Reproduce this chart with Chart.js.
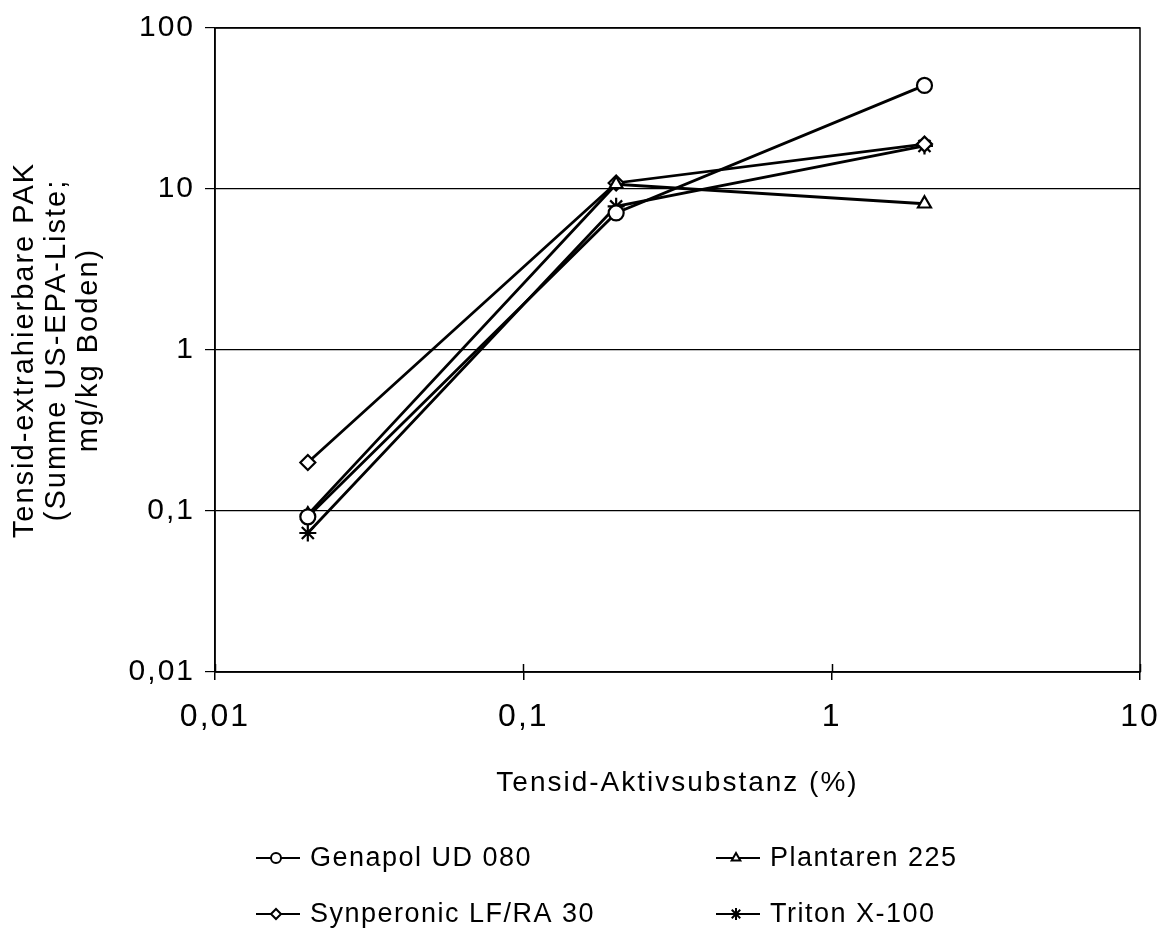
<!DOCTYPE html>
<html>
<head>
<meta charset="utf-8">
<script src="https://cdn.jsdelivr.net/npm/chart.js@4/dist/chart.umd.min.js"></script>
<style>
  html, body { margin: 0; padding: 0; background: #fff; }
  #wrap { width: 1166px; height: 931px; }
</style>
</head>
<body>
<div id="wrap"><canvas id="pakChart"></canvas></div>
<script>
"use strict";

// Tensid-Aktivsubstanz (%)
const concentrations = [0.02, 0.2, 2];
// PAK (mg/kg Boden)
const genapol = [0.092, 7.1, 44];
const plantaren = [0.095, 10.7, 8.1];
const synperonic = [0.2, 10.9, 19.0];
const triton = [0.073, 7.8, 18.5];

const seriesNames = ['Genapol UD 080', 'Plantaren 225', 'Synperonic LF/RA 30', 'Triton X-100'];
const seriesStyles = ['circle', 'triangle', 'rectRot', 'star'];
const xTicks = [0.01, 0.1, 1, 10];
const yTicks = [0.01, 0.1, 1, 10, 100];

const FONT = "'Liberation Sans', Arial, sans-serif";
const fmt = (v) => String(v).replace('.', ',');

const toPoints = (arr) => concentrations.map((x, i) => ({ x: x, y: arr[i] }));

const makeDataset = (idx, values) => ({
  label: seriesNames[idx],
  data: toPoints(values),
  borderColor: '#000',
  borderWidth: 2.8,
  tension: 0,
  pointStyle: seriesStyles[idx],
  pointRadius: seriesStyles[idx] === 'star' ? 8.5 : 7.5,
  pointBackgroundColor: '#fff',
  pointBorderColor: '#000',
  pointBorderWidth: 2.2
});

// wider letters like the scanned original
const spacingPlugin = {
  id: 'spacing',
  beforeDraw: (chart) => { chart.ctx.letterSpacing = '2px'; }
};

// box round the plot area + ticks crossing the x axis
const framePlugin = {
  id: 'frame',
  afterDatasetsDraw: (chart) => {
    const { ctx, chartArea: a } = chart;
    ctx.save();
    ctx.strokeStyle = '#000';
    ctx.lineWidth = 1.5;
    ctx.strokeRect(a.left, a.top, a.right - a.left, a.bottom - a.top);
    const xs = chart.scales.x;
    xTicks.forEach(t => {
      const px = Math.round(xs.getPixelForValue(t)) + 0.5;
      ctx.beginPath();
      ctx.moveTo(px, a.bottom - 8);
      ctx.lineTo(px, a.bottom);
      ctx.stroke();
    });
    ctx.restore();
  }
};

// legend: two columns, line with marker then name
const legendPlugin = {
  id: 'pakLegend',
  afterDraw: (chart) => {
    const { ctx } = chart;
    const cols = [256, 716];
    const rows = [858, 914];
    ctx.save();
    ctx.letterSpacing = '1.5px';
    ctx.font = `27px ${FONT}`;
    ctx.textBaseline = 'middle';
    ctx.textAlign = 'left';
    chart.data.datasets.forEach((ds, i) => {
      const x0 = cols[i % 2];
      const y = rows[Math.floor(i / 2)];
      ctx.strokeStyle = '#000';
      ctx.lineWidth = 2;
      ctx.beginPath();
      ctx.moveTo(x0, y);
      ctx.lineTo(x0 + 44, y);
      ctx.stroke();
      ctx.fillStyle = '#fff';
      Chart.helpers.drawPoint(ctx, {
        pointStyle: ds.pointStyle,
        radius: ds.pointStyle === 'star' ? 6 : 5,
        borderWidth: 1.5,
        rotation: 0
      }, x0 + 20, y);
      ctx.fillStyle = '#000';
      ctx.fillText(ds.label, x0 + 54, y + 1);
    });
    ctx.restore();
  }
};

const ctxPak = document.getElementById('pakChart');
new Chart(ctxPak, {
  type: 'line',
  data: {
    datasets: [
      makeDataset(0, genapol),
      makeDataset(1, plantaren),
      makeDataset(2, synperonic),
      makeDataset(3, triton)
    ]
  },
  options: {
    responsive: true,
    maintainAspectRatio: false,
    animation: false,
    layout: { padding: { top: 27, right: 26, bottom: 129, left: 0 } },
    plugins: {
      legend: { display: false },
      tooltip: { enabled: false }
    },
    scales: {
      x: {
        type: 'logarithmic',
        min: 0.01,
        max: 10,
        afterBuildTicks: (scale) => { scale.ticks = xTicks.map(v => ({ value: v })); },
        afterFit: (scale) => {
          scale.height = 130;
          scale.paddingLeft = 0;
          scale.paddingRight = 0;
        },
        grid: { display: true, drawOnChartArea: false, drawTicks: true, tickLength: 8, color: '#000', lineWidth: 1.5 },
        border: { display: true, color: '#000', width: 1.5 },
        ticks: {
          color: '#000',
          font: { family: FONT, size: 32 },
          padding: 18,
          maxRotation: 0,
          autoSkip: false,
          callback: (v) => fmt(v)
        },
        title: {
          display: true,
          text: 'Tensid-Aktivsubstanz (%)',
          color: '#000',
          font: { family: FONT, size: 28 },
          padding: { top: 0, bottom: 2 }
        }
      },
      y: {
        type: 'logarithmic',
        min: 0.01,
        max: 100,
        afterBuildTicks: (scale) => { scale.ticks = yTicks.map(v => ({ value: v })); },
        afterFit: (scale) => { scale.width = 215; },
        grid: { color: '#000', lineWidth: 1.2, tickLength: 10 },
        border: { display: true, color: '#000', width: 1.5 },
        ticks: {
          color: '#000',
          font: { family: FONT, size: 30 },
          padding: 10,
          autoSkip: false,
          callback: (v) => fmt(v)
        },
        title: {
          display: true,
          text: ['Tensid-extrahierbare PAK', '(Summe US-EPA-Liste;', 'mg/kg Boden)'],
          color: '#000',
          font: { family: FONT, size: 29, lineHeight: 1.1 },
          padding: { top: 9, bottom: 0 }
        }
      }
    }
  },
  plugins: [spacingPlugin, framePlugin, legendPlugin]
});
</script>
</body>
</html>
